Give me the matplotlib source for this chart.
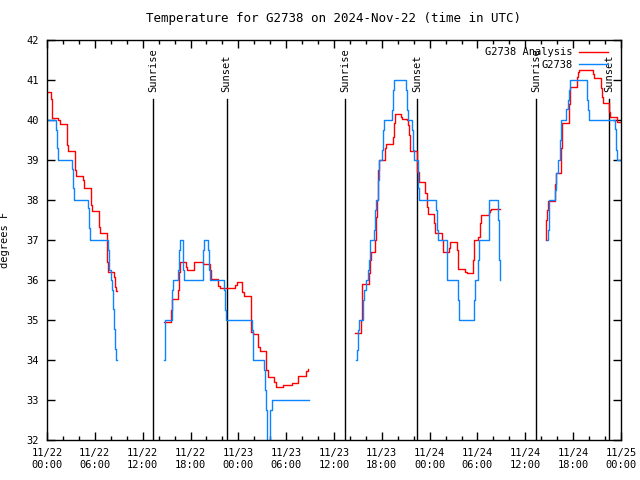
import matplotlib
matplotlib.use("Agg")
import matplotlib.pyplot as plt
import numpy as np

# hours since 2024-11-22 00:00 UTC, values in degrees F (step changes)
red_t1 = [0.0, 0.5, 0.67, 1.42, 1.63, 2.47, 2.55, 2.67, 3.47, 3.55, 3.68, 4.47, 4.6, 5.48, 5.57, 5.7,
          6.48, 6.57, 6.7, 7.48, 7.6, 8.4, 8.57, 8.7, 8.75]
red_v1 = [40.69, 40.52, 40.04, 40.0, 39.91, 39.71, 39.38, 39.22, 39.04, 38.75, 38.59, 38.5, 38.31, 38.12,
          37.88, 37.72, 37.58, 37.33, 37.17, 36.46, 36.19, 36.07, 35.83, 35.72, 35.72]

red_t2 = [14.72, 15.51, 15.64, 15.72, 16.47, 16.56, 16.68, 17.44, 17.6, 18.48, 19.61, 20.45, 20.6, 21.5,
          21.65, 23.58, 23.87, 24.5, 24.7, 25.55, 25.84, 26.5, 26.72, 27.51, 27.76, 28.51, 28.73, 29.64,
          30.69, 31.53, 32.49, 32.78]
red_v2 = [34.94, 35.25, 35.4, 35.53, 35.75, 36.21, 36.44, 36.33, 36.25, 36.44, 36.39, 36.25, 36.03, 35.85,
          35.8, 35.88, 35.94, 35.69, 35.6, 34.71, 34.65, 34.33, 34.23, 33.75, 33.57, 33.45, 33.32, 33.37,
          33.42, 33.6, 33.73, 33.77]

red_t3 = [38.64, 39.35, 39.45, 39.55, 40.43, 40.55, 40.64, 41.19, 41.27, 41.4, 41.48, 41.56, 41.6, 42.4,
          42.57, 43.36, 43.48, 43.6, 44.4, 44.57, 45.2, 45.33, 45.45, 45.53, 46.37, 46.45, 46.62, 47.46,
          47.63, 47.75, 48.59, 48.72, 49.5, 49.62, 49.7, 50.43, 50.6, 51.39, 51.52, 52.47, 52.68, 53.48,
          53.6, 54.1, 54.3, 54.5, 55.4, 55.55, 55.7, 56.78]
red_v3 = [34.67, 35.0, 35.58, 35.9, 36.17, 36.5, 36.69, 37.0, 37.58, 38.0, 38.25, 38.75, 39.0, 39.29,
          39.4, 39.58, 39.92, 40.14, 40.08, 40.03, 40.0, 39.88, 39.63, 39.23, 39.0, 38.71, 38.46, 38.17,
          37.83, 37.64, 37.42, 37.18, 37.0, 36.81, 36.69, 36.81, 36.96, 36.75, 36.27, 36.2, 36.18, 36.5,
          37.0, 37.08, 37.42, 37.62, 37.7, 37.75, 37.78, 37.78]

red_t4 = [62.55, 62.6, 62.68, 62.8, 63.72, 63.85, 64.48, 64.6, 65.52, 65.6, 66.44, 66.57, 66.73, 68.45,
          68.61, 69.45, 69.58, 69.7, 70.46, 70.58, 71.54, 72.0]
red_v4 = [37.0, 37.5, 37.75, 37.98, 38.4, 38.67, 39.3, 39.92, 40.4, 40.83, 41.08, 41.2, 41.25, 41.15,
          41.04, 40.8, 40.58, 40.42, 40.2, 40.07, 39.95, 39.95]

blue_t1 = [0.0, 1.13, 1.3, 1.43, 3.18, 3.3, 3.43, 5.18, 5.3, 5.43, 7.6, 7.77, 7.97, 8.13, 8.27, 8.4,
           8.57, 8.7, 8.72]
blue_v1 = [40.0, 39.75, 39.3, 39.0, 38.77, 38.29, 38.0, 37.79, 37.3, 37.0, 36.75, 36.25, 36.0, 35.75,
           35.27, 34.77, 34.27, 34.0, 34.0]

blue_t2 = [14.72, 14.77, 14.85, 15.64, 15.72, 15.8, 16.47, 16.6, 16.68, 17.0, 17.1, 17.2, 19.6, 19.7,
           20.15, 20.3, 20.45, 22.25, 22.35, 22.43, 25.67, 25.82, 25.9, 27.26, 27.38, 27.5, 27.63, 27.97,
           28.27, 32.87]
blue_v2 = [34.0, 34.75, 35.0, 35.5, 35.75, 36.0, 36.25, 36.75, 37.0, 36.75, 36.25, 36.0, 36.75, 37.0,
           36.75, 36.25, 36.0, 35.75, 35.25, 35.0, 34.75, 34.25, 34.0, 33.75, 33.25, 32.75, 31.75, 32.75,
           33.0, 33.0]

blue_t3 = [38.72, 38.93, 39.05, 39.14, 39.68, 39.81, 39.97, 40.3, 40.43, 40.47, 40.98, 41.1, 41.23,
           41.48, 41.6, 41.69, 41.98, 42.11, 42.23, 43.23, 43.36, 43.48, 45.07, 45.2, 45.33, 45.78, 45.91,
           46.04, 46.58, 46.71, 48.79, 48.92, 49.0, 50.13, 50.22, 51.6, 51.72, 53.6, 53.73, 54.02, 54.15,
           55.4, 55.49, 56.57, 56.7, 56.78, 56.8]
blue_v3 = [34.0, 34.25, 34.75, 35.0, 35.5, 35.75, 36.0, 36.25, 36.5, 37.0, 37.25, 37.75, 38.0, 38.5,
           38.75, 39.0, 39.25, 39.75, 40.0, 40.25, 40.75, 41.0, 40.75, 40.25, 40.0, 39.75, 39.25, 39.0,
           38.29, 38.0, 37.75, 37.25, 37.0, 36.5, 36.0, 35.5, 35.0, 35.5, 36.0, 36.5, 37.0, 37.5, 38.0,
           37.5, 36.5, 36.0, 36.0]

blue_t4 = [62.7, 62.8, 62.93, 63.0, 63.72, 63.85, 64.1, 64.35, 64.48, 65.1, 65.31, 65.44, 65.56, 67.78,
           67.9, 68.03, 71.25, 71.37, 71.5, 72.0]
blue_v4 = [37.0, 37.25, 37.78, 38.0, 38.25, 38.67, 39.0, 39.5, 40.0, 40.27, 40.5, 40.75, 41.0, 40.5,
           40.25, 40.0, 39.77, 39.25, 39.0, 39.0]

sunrise = [13.31, 37.42, 61.38]
sunset = [22.52, 46.43, 70.55]

xtick_pos = list(range(0, 73, 6))
xtick_labels = ["11/22\n00:00", "11/22\n06:00", "11/22\n12:00", "11/22\n18:00",
                "11/23\n00:00", "11/23\n06:00", "11/23\n12:00", "11/23\n18:00",
                "11/24\n00:00", "11/24\n06:00", "11/24\n12:00", "11/24\n18:00",
                "11/25\n00:00"]

red = "#ff0000"
blue = "#0a84ff"

plt.rcParams['font.family'] = ['DejaVu Sans Mono']
plt.rcParams['font.size'] = 7.5

fig = plt.figure(figsize=(6.4, 4.8), dpi=100)
ax = fig.add_axes([47 / 640, 40 / 480, 574 / 640, 400 / 480])

# sunrise / sunset markers
for t in sunrise:
    ax.axvline(t, ymin=0, ymax=0.853, color="black", lw=1.0)
    ax.text(t, 0.87, "Sunrise", rotation=90, ha="center", va="bottom",
            transform=ax.get_xaxis_transform())
for t in sunset:
    ax.axvline(t, ymin=0, ymax=0.853, color="black", lw=1.0)
    ax.text(t, 0.87, "Sunset", rotation=90, ha="center", va="bottom",
            transform=ax.get_xaxis_transform())

red_segs = [(red_t1, red_v1), (red_t2, red_v2), (red_t3, red_v3), (red_t4, red_v4)]
blue_segs = [(blue_t1, blue_v1), (blue_t2, blue_v2), (blue_t3, blue_v3), (blue_t4, blue_v4)]

for i, (t, v) in enumerate(red_segs):
    ax.plot(t, v, color=red, lw=1.0, drawstyle="steps-post",
            label="G2738 Analysis" if i == 0 else None)
for i, (t, v) in enumerate(blue_segs):
    ax.plot(t, v, color=blue, lw=1.0, drawstyle="steps-post",
            label="G2738" if i == 0 else None)

ax.set_xlim(0, 72)
ax.set_ylim(32, 42)
ax.set_xticks(xtick_pos)
ax.set_xticklabels(xtick_labels)
ax.set_xticks(np.arange(0, 73, 2), minor=True)
ax.set_yticks(np.arange(32, 43, 1))
ax.tick_params(which="both", direction="in", top=True, right=True, width=1.0)
ax.tick_params(which="major", length=6, pad=6)
ax.tick_params(which="minor", length=3)
for s in ax.spines.values():
    s.set_linewidth(1.0)

ax.set_ylabel("degrees F")
ax.yaxis.set_label_coords(-37 / 574, 0.5)
ax.set_title("Temperature for G2738 on 2024-Nov-22 (time in UTC)", pad=13)

ax.legend(loc="upper right", frameon=False, markerfirst=False, handlelength=2.8,
          bbox_to_anchor=(1 - 7 / 574, 1 - 1 / 400),
          borderaxespad=0.2, labelspacing=0.25, handletextpad=0.6)

fig.savefig("out.png", dpi=100)
